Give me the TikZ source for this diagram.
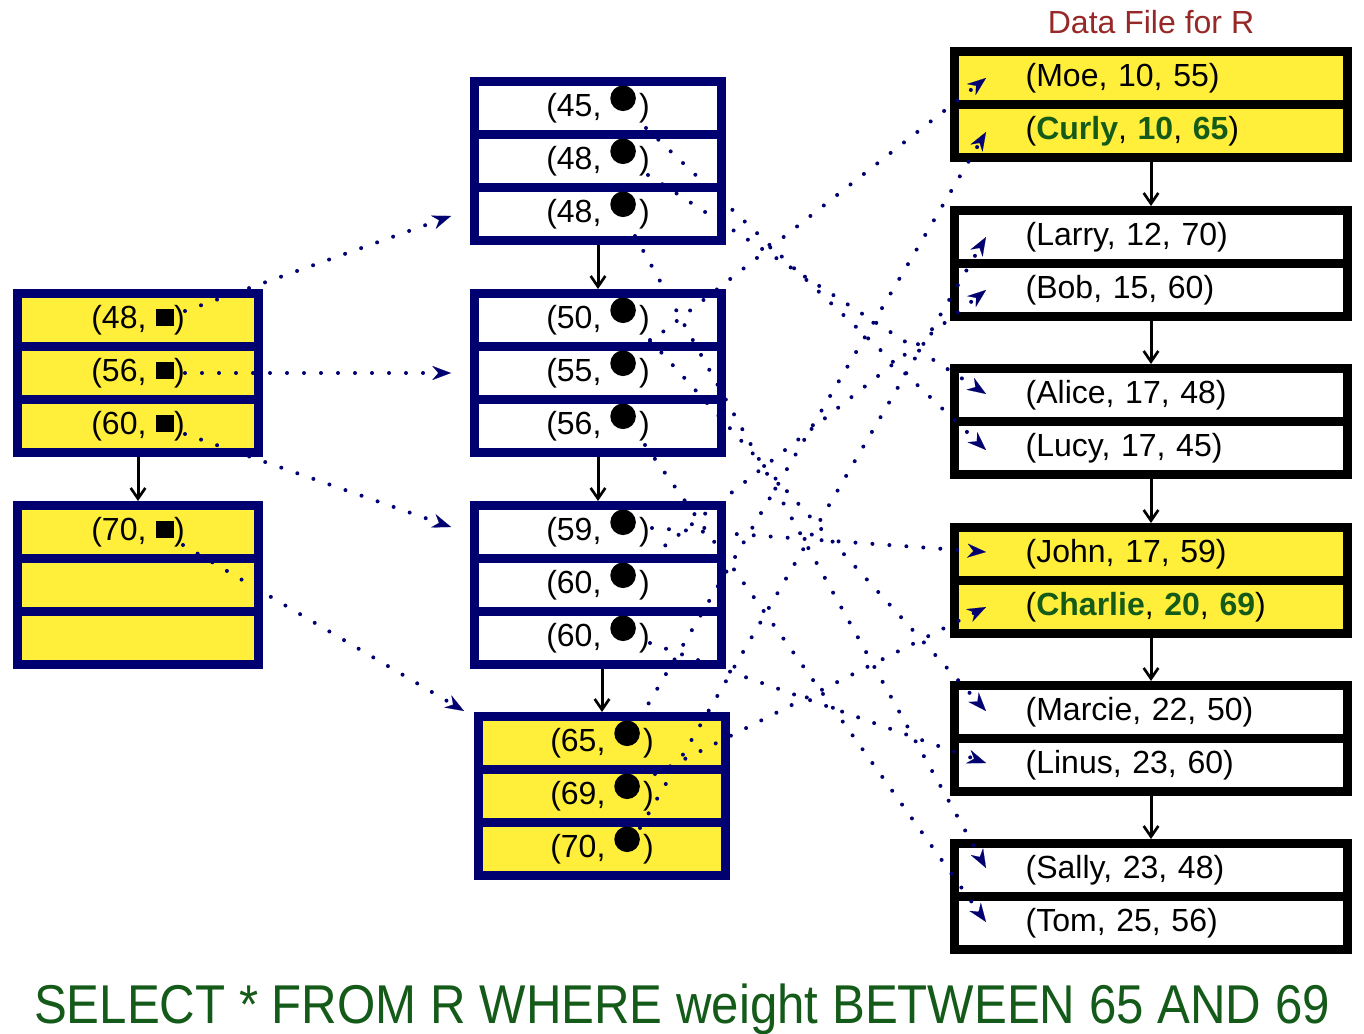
\documentclass[tikz,border=0pt]{standalone}
\usepackage{fontspec}
\setmainfont{Liberation Sans}
\usetikzlibrary{arrows.meta}
\definecolor{navy}{RGB}{0,0,112}
\definecolor{hiyel}{RGB}{255,238,58}
\definecolor{dred}{RGB}{150,40,40}
\definecolor{dgreen}{RGB}{20,90,25}
\newcommand\bul{\tikz[baseline=0pt]{\path[use as bounding box] (0pt,0pt) rectangle (21.6pt,1pt); \fill[black] (9.6pt,13.5pt) circle[radius=9.6pt];}}
\newcommand\sqr{\tikz[baseline=0pt]{\path[use as bounding box] (0pt,0pt) rectangle (14pt,1pt); \fill[black] (0.2pt,1.5pt) rectangle (13.7pt,14.25pt);}}
\newcommand\hl[1]{\textcolor{dgreen}{\textbf{#1}}}
\begin{document}
\begin{tikzpicture}[x=0.75pt,y=-0.75pt,
  rowbase/.style={line width=6.75pt, minimum height=39.75pt, inner sep=0pt, font=\fontsize{24}{28}\selectfont},
  lrow/.style={rowbase, draw=navy, fill=hiyel, minimum width=180.75pt},
  mrow/.style={rowbase, draw=navy, fill=white, minimum width=185.25pt},
  myrow/.style={mrow, fill=hiyel},
  rrow/.style={rowbase, draw=black, fill=white, minimum width=294.75pt, text width=188pt, inner xsep=53pt, align=left},
  ryrow/.style={rrow, fill=hiyel},
  nextarr/.style={draw=black, line width=2.25pt, -{Straight Barb[length=8pt,width=11pt,line width=2pt]}},
  ptr/.style={draw=navy, line width=3pt, line cap=round, dash pattern=on 0pt off 12.75pt, -{Stealth[length=14pt,width=10.5pt,inset=4.5pt,line width=0.1pt]}},
]
\useasboundingbox (0,0) rectangle (1364,1034);

% left index level
\node[lrow] (L1a) at (138,320) {(48, \sqr)};
\node[lrow] (L1b) at (138,373) {(56, \sqr)};
\node[lrow] (L1c) at (138,426) {(60, \sqr)};
\node[lrow] (L2a) at (138,532) {(70, \sqr)};
\node[lrow] (L2b) at (138,585) {};
\node[lrow] (L2c) at (138,638) {};

% middle leaf level
\node[mrow] (M1a) at (598,108) {(45, \bul)};
\node[mrow] (M1b) at (598,161) {(48, \bul)};
\node[mrow] (M1c) at (598,214) {(48, \bul)};
\node[mrow] (M2a) at (598,320) {(50, \bul)};
\node[mrow] (M2b) at (598,373) {(55, \bul)};
\node[mrow] (M2c) at (598,426) {(56, \bul)};
\node[mrow] (M3a) at (598,532) {(59, \bul)};
\node[mrow] (M3b) at (598,585) {(60, \bul)};
\node[mrow] (M3c) at (598,638) {(60, \bul)};
\node[myrow] (M4a) at (602,743) {(65, \bul)};
\node[myrow] (M4b) at (602,796) {(69, \bul)};
\node[myrow] (M4c) at (602,849) {(70, \bul)};

% data file
\node[font=\fontsize{24}{28}\selectfont, text=dred] (title) at (1151,22) {Data File for R};
\node[ryrow] (R1a) at (1151,78) {\mbox{(Moe, 10, 55)}};
\node[ryrow] (R1b) at (1151,131) {\mbox{(\hl{Curly}, \hl{10}, \hl{65})}};
\node[rrow] (R2a) at (1151,237) {\mbox{(Larry, 12, 70)}};
\node[rrow] (R2b) at (1151,290) {\mbox{(Bob, 15, 60)}};
\node[rrow] (R3a) at (1151,395) {\mbox{(Alice, 17, 48)}};
\node[rrow] (R3b) at (1151,448) {\mbox{(Lucy, 17, 45)}};
\node[ryrow] (R4a) at (1151,554) {\mbox{(John, 17, 59)}};
\node[ryrow] (R4b) at (1151,607) {\mbox{(\hl{Charlie}, \hl{20}, \hl{69})}};
\node[rrow] (R5a) at (1151,712) {\mbox{(Marcie, 22, 50)}};
\node[rrow] (R5b) at (1151,765) {\mbox{(Linus, 23, 60)}};
\node[rrow] (R6a) at (1151,870) {\mbox{(Sally, 23, 48)}};
\node[rrow] (R6b) at (1151,923) {\mbox{(Tom, 25, 56)}};

\node[font=\fontsize{41}{48}\selectfont, text=dgreen] (sql) at (682,1009) {\scalebox{0.9}[1]{SELECT * FROM R WHERE weight BETWEEN 65 AND 69}};

% next-block arrows
\draw[nextarr] (L1c.south) -- (L2a.north);
\draw[nextarr] (M1c.south) -- (M2a.north);
\draw[nextarr] (M2c.south) -- (M3a.north);
\draw[nextarr] (M3c.south -| M4a.north) -- (M4a.north);
\draw[nextarr] (R1b.south) -- (R2a.north);
\draw[nextarr] (R2b.south) -- (R3a.north);
\draw[nextarr] (R3b.south) -- (R4a.north);
\draw[nextarr] (R4b.south) -- (R5a.north);
\draw[nextarr] (R5b.south) -- (R6a.north);

% pointer coordinates
\coordinate (sL48) at (185,311);  \coordinate (tL48) at (451,216);
\coordinate (sL56) at (185,373);  \coordinate (tL56) at (451,373);
\coordinate (sL60) at (185,434);  \coordinate (tL60) at (451,527);
\coordinate (sL70) at (183,545);  \coordinate (tL70) at (464,711);

\coordinate (s45) at (646,128);   \coordinate (tLucy) at (986,450);
\coordinate (s48a) at (648,175);  \coordinate (tAlice) at (986,394);
\coordinate (s48b) at (635,236);  \coordinate (tSally) at (986,868);
\coordinate (s55) at (650,342);   \coordinate (tMoe) at (986,78);
\coordinate (s50) at (650,340);   \coordinate (tMarcie) at (986,711);
\coordinate (s56) at (645,445);   \coordinate (tTom) at (986,922);
\coordinate (s59) at (652,528);   \coordinate (tJohn) at (986,552);
\coordinate (s60a) at (652,556);  \coordinate (tBob) at (986,290);
\coordinate (s60b) at (650,643);  \coordinate (tLinus) at (986,763);
\coordinate (s65) at (640,718);   \coordinate (tCurly) at (986,132);
\coordinate (s69) at (655,774);   \coordinate (tCharlie) at (986,607);
\coordinate (s70) at (640,828);   \coordinate (tLarry) at (986,237);

% pointers
\draw[ptr] (sL48) -- (tL48);
\draw[ptr] (sL56) -- (tL56);
\draw[ptr] (sL60) -- (tL60);
\draw[ptr] (sL70) -- (tL70);
\draw[ptr] (s45) -- (tLucy);
\draw[ptr] (s48a) -- (tAlice);
\draw[ptr] (s48b) -- (tSally);
\draw[ptr] (s55) -- (tMoe);
\draw[ptr] (s50) -- (tMarcie);
\draw[ptr] (s56) -- (tTom);
\draw[ptr] (s59) -- (tJohn);
\draw[ptr] (s60a) -- (tBob);
\draw[ptr] (s60b) -- (tLinus);
\draw[ptr] (s65) -- (tCurly);
\draw[ptr] (s69) -- (tCharlie);
\draw[ptr] (s70) -- (tLarry);
\end{tikzpicture}
\end{document}
